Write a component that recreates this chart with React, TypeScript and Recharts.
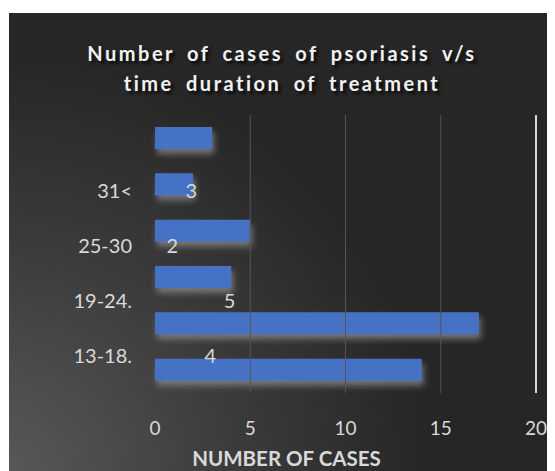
import { BarChart, Bar, XAxis, YAxis, ReferenceLine, LabelList, Label } from "recharts";

// bars as drawn, top to bottom
const barValues = [3, 2, 5, 4, 17, 14];

// category labels and data labels sit on their own (misaligned) rows
const rowLabels = ["", "31<", "25-30", "19-24.", "13-18."];
const rowValues = [null, 3, 2, 5, 4];

const xTicks = [0, 5, 10, 15, 20];
const gridValues = [5, 10, 15];

const W = 546;
const H = 458;
const FONT = "Lato, 'Open Sans', sans-serif";
const TEXT = "#d9d9d9";

const barData = barValues.map((v, i) => ({ row: `r${i + 1}`, value: v }));
const labelData = rowLabels.map((label, i) => ({ label, value: rowValues[i] }));

export default function App() {
  return (
    <div style={{ position: "relative", width: 547, height: 463 }}>
      <div
        style={{
          position: "absolute",
          left: 1,
          top: 5,
          width: W,
          height: H,
          background:
            "radial-gradient(circle at 0% 100%, #585858 0px, #3c3c3c 220px, #262626 420px)",
          fontFamily: FONT,
        }}
      >
        <div
          style={{
            position: "absolute",
            top: 25,
            left: 0,
            width: W,
            textAlign: "center",
            color: "#f2f2f2",
            fontWeight: 700,
            fontSize: 20,
            lineHeight: "30px",
            letterSpacing: 2.5,
            wordSpacing: 5,
            textShadow: "3px 3px 3px rgba(0,0,0,0.7)",
          }}
        >
          Number of cases of psoriasis v/s
          <br />
          time duration of treatment
        </div>

        {/* bars, grid and value axis */}
        <div style={{ position: "absolute", left: 0, top: 0 }}>
          <BarChart
            width={W}
            height={H}
            data={barData}
            layout="vertical"
            margin={{ top: 102, right: 19, bottom: 0, left: 146 }}
            barCategoryGap="0%"
          >
            <defs>
              <filter id="barShadow" x="-10%" y="-30%" width="130%" height="190%">
                <feDropShadow dx="2" dy="5" stdDeviation="3" floodColor="#8a8a8a" floodOpacity="0.75" />
              </filter>
            </defs>
            {gridValues.map((v) => (
              <ReferenceLine key={v} x={v} stroke="#555555" strokeWidth={1} />
            ))}
            <ReferenceLine x={20} stroke="#d9d9d9" strokeWidth={2} />
            <XAxis
              type="number"
              domain={[0, 20]}
              ticks={xTicks}
              height={78}
              axisLine={false}
              tickLine={false}
              tickMargin={23}
              tick={{ fill: TEXT, fontSize: 19, fontFamily: FONT }}
            >
              <Label
                value="NUMBER OF CASES"
                position="insideBottom"
                offset={5}
                dx={-59}
                style={{ fill: TEXT, fontSize: 20.5, fontWeight: 700, fontFamily: FONT }}
              />
            </XAxis>
            <YAxis type="category" dataKey="row" hide />
            <Bar
              dataKey="value"
              fill="#4472c4"
              barSize={22}
              filter="url(#barShadow)"
              isAnimationActive={false}
            />
          </BarChart>
        </div>

        {/* category labels and data labels */}
        <div style={{ position: "absolute", left: 0, top: 0 }}>
          <BarChart
            width={W}
            height={H}
            data={labelData}
            layout="vertical"
            margin={{ top: 95, right: 19, bottom: 88, left: 0 }}
          >
            <XAxis type="number" domain={[0, 20]} hide />
            <YAxis
              type="category"
              dataKey="label"
              width={146}
              axisLine={false}
              tickLine={false}
              tickSize={0}
              tickMargin={23}
              tick={{ fill: TEXT, fontSize: 20, fontFamily: FONT }}
            />
            <Bar dataKey="value" fill="transparent" isAnimationActive={false}>
              <LabelList
                dataKey="value"
                position="insideRight"
                offset={15}
                style={{ fill: TEXT, fontSize: 20, fontFamily: FONT }}
              />
            </Bar>
          </BarChart>
        </div>
      </div>
    </div>
  );
}
